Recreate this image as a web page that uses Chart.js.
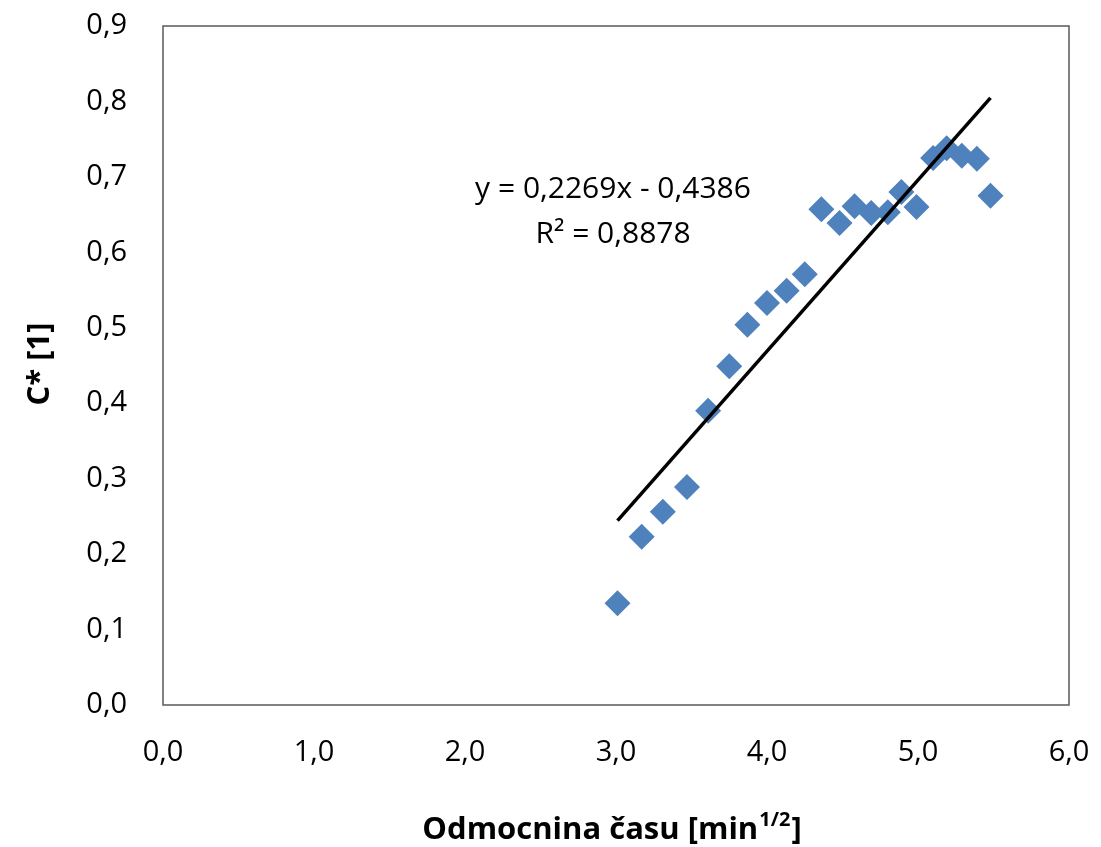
<!DOCTYPE html>
<html>
<head>
<meta charset="utf-8">
<script src="https://cdn.jsdelivr.net/npm/chart.js@4.4.1/dist/chart.umd.min.js"></script>
<style>
  html, body { margin: 0; padding: 0; background: #fff; }
  #wrap { width: 1101px; height: 847px; }
</style>
</head>
<body>
<div id="wrap"><canvas id="chart" width="1101" height="847"></canvas></div>
<script>
// podatki (odmocnina casa, C*)
const xValues = [3.01, 3.17, 3.31, 3.47, 3.61, 3.75, 3.87, 4.00, 4.13, 4.25, 4.36,
                 4.48, 4.58, 4.69, 4.80, 4.89, 4.99, 5.10, 5.19, 5.29, 5.39, 5.48];
const yValues = [0.135, 0.223, 0.256, 0.289, 0.390, 0.449, 0.504, 0.533, 0.549, 0.571, 0.657,
                 0.639, 0.661, 0.652, 0.653, 0.680, 0.660, 0.725, 0.738, 0.728, 0.724, 0.675];
const slope = 0.2269;
const intercept = -0.4386;
const equationText = 'y = 0,2269x - 0,4386';
const rSquaredText = 'R² = 0,8878';
const xTitleMain = 'Odmocnina času [min';
const xTitleSup = '1/2';
const yTitle = 'C* [1]';

const points = xValues.map((x, i) => ({ x: x, y: yValues[i] }));
const xMin = Math.min(...xValues), xMax = Math.max(...xValues);
const trend = [xMin, xMax].map(x => ({ x: x, y: slope * x + intercept }));

const fmt = (v, d) => v.toFixed(d).replace('.', ',');
const FONT = '"Open Sans", "DejaVu Sans", sans-serif';

// okvir, naslovi osi in enacba
const extras = {
    id: 'extras',
    afterDraw(chart) {
        const ctx = chart.ctx;
        const a = chart.chartArea;
        ctx.save();
        ctx.strokeStyle = '#595959';
        ctx.lineWidth = 1.5;
        ctx.strokeRect(a.left, a.top, a.right - a.left, a.bottom - a.top);

        // enacba trendne crte
        ctx.fillStyle = '#000';
        ctx.font = '30px ' + FONT;
        ctx.textAlign = 'center';
        ctx.textBaseline = 'middle';
        ctx.fillText(equationText, 613, 189);
        ctx.fillText(rSquaredText, 613, 234);

        // naslov x osi z eksponentom
        ctx.font = 'bold 31px ' + FONT;
        const wMain = ctx.measureText(xTitleMain).width;
        ctx.font = 'bold 20px ' + FONT;
        const wSup = ctx.measureText(xTitleSup).width;
        ctx.font = 'bold 31px ' + FONT;
        const wEnd = ctx.measureText(']').width;
        let x0 = 611 - (wMain + wSup + wEnd) / 2;
        const yb = 830;
        ctx.textAlign = 'left';
        ctx.textBaseline = 'middle';
        ctx.fillText(xTitleMain, x0, yb);
        ctx.font = 'bold 20px ' + FONT;
        ctx.fillText(xTitleSup, x0 + wMain + 1, yb - 10);
        ctx.font = 'bold 31px ' + FONT;
        ctx.fillText(']', x0 + wMain + wSup + 2, yb);

        // naslov y osi
        ctx.translate(40, 364);
        ctx.rotate(-Math.PI / 2);
        ctx.textAlign = 'center';
        ctx.fillText(yTitle, 0, 0);
        ctx.restore();
    }
};

const ctx = document.getElementById('chart').getContext('2d');
new Chart(ctx, {
    type: 'scatter',
    data: {
        datasets: [{
            label: 'C*',
            data: points,
            pointStyle: 'rectRot',
            pointRadius: 13,
            pointHoverRadius: 13,
            backgroundColor: '#4F81BD',
            borderColor: '#4F81BD',
            borderWidth: 0,
            order: 2
        }, {
            label: 'Linear',
            type: 'line',
            data: trend,
            borderColor: '#000',
            borderWidth: 3.5,
            pointRadius: 0,
            fill: false,
            order: 1
        }]
    },
    options: {
        responsive: false,
        animation: false,
        layout: { padding: { left: 0, right: 32, top: 26, bottom: 0 } },
        plugins: {
            legend: { display: false },
            tooltip: { enabled: false }
        },
        scales: {
            x: {
                type: 'linear',
                min: 0,
                max: 6,
                grid: { display: false, drawTicks: false },
                border: { display: false },
                ticks: {
                    stepSize: 1,
                    padding: 30,
                    color: '#000',
                    font: { family: FONT, size: 29 },
                    callback: v => fmt(v, 1)
                },
                afterFit: s => {
                    s.height = 142;
                    s.paddingLeft = 0;
                    s.paddingRight = 0;
                }
            },
            y: {
                min: 0,
                max: 0.9,
                grid: { display: false, drawTicks: false },
                border: { display: false },
                ticks: {
                    stepSize: 0.1,
                    padding: 36,
                    color: '#000',
                    font: { family: FONT, size: 29 },
                    callback: v => fmt(v, 1)
                },
                afterFit: s => {
                    s.width = 163;
                    s.paddingTop = 0;
                    s.paddingBottom = 0;
                }
            }
        }
    },
    plugins: [extras]
});
</script>
</body>
</html>
